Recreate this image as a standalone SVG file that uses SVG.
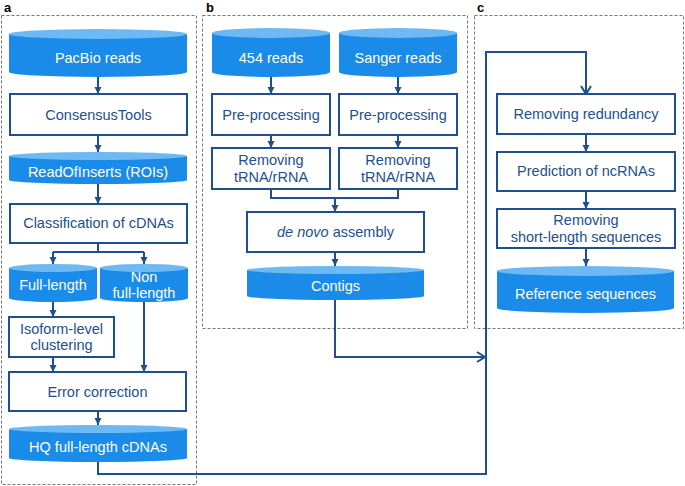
<svg xmlns="http://www.w3.org/2000/svg" width="685" height="486" viewBox="0 0 685 486">
<defs>
<marker id="ah" markerUnits="userSpaceOnUse" markerWidth="8" markerHeight="8" refX="7" refY="4" orient="auto">
<path d="M0,0.5 L7,4 L0,7.5 Z" fill="#1d4f91"/>
</marker>
<marker id="oh" markerUnits="userSpaceOnUse" markerWidth="12" markerHeight="12" refX="9" refY="6" orient="auto">
<path d="M1,1 L9,6 L1,11" fill="none" stroke="#1d4f91" stroke-width="2"/>
</marker>
</defs>
<style>
.panel{fill:none;stroke:#777;stroke-width:1;stroke-dasharray:3 2}
.lbl{font-family:"Liberation Sans",Arial,sans-serif;font-weight:bold;font-size:13px;fill:#000}
.box{fill:#fff;stroke:#1d4f91;stroke-width:2}
.body{fill:#1a8be8}
.top{fill:#6db9f3}
.t{font-family:"Liberation Sans",Arial,sans-serif;font-size:14.5px;fill:#1d4f91;text-anchor:middle}
.w{font-family:"Liberation Sans",Arial,sans-serif;font-size:14.5px;fill:#fff;text-anchor:middle}
.c{fill:none;stroke:#1d4f91;stroke-width:2}
.ca{fill:none;stroke:#1d4f91;stroke-width:2;marker-end:url(#ah)}
.co{fill:none;stroke:#1d4f91;stroke-width:2;marker-end:url(#oh)}
</style>
<rect fill="#fff" width="685" height="486"/>
<g id="panels">
<rect class="panel" x="1.5" y="15.5" width="195" height="469"/>
<rect class="panel" x="202.5" y="15.5" width="265" height="313"/>
<rect class="panel" x="474.5" y="15.5" width="209" height="313"/>
<text class="lbl" x="4" y="12">a</text>
<text class="lbl" x="206" y="12">b</text>
<text class="lbl" x="477" y="12">c</text>
</g>
<g id="connectors">
<path class="ca" d="M98,77 V94"/>
<path class="ca" d="M98,135 V152"/>
<path class="ca" d="M98,184 V204"/>
<path class="c" d="M98,243 V252 M53,252 H144"/>
<path class="ca" d="M53,252 V264"/>
<path class="ca" d="M144,252 V264"/>
<path class="ca" d="M53,302 V317"/>
<path class="ca" d="M144,302 V372"/>
<path class="ca" d="M53,357 V372"/>
<path class="ca" d="M98,411 V425"/>
<path class="co" d="M98,462 V474 H486 V52 H586 V94"/>
<path class="ca" d="M271,77 V94"/>
<path class="ca" d="M398,77 V94"/>
<path class="ca" d="M271,135 V148"/>
<path class="ca" d="M398,135 V148"/>
<path class="c" d="M271,189 V198 H398 V189"/>
<path class="ca" d="M335,198 V212"/>
<path class="ca" d="M335,252 V266"/>
<path class="co" d="M335,300 V357 H485"/>
<path class="ca" d="M586,134 V152"/>
<path class="ca" d="M586,191 V209"/>
<path class="ca" d="M586,248 V266"/>
</g>
<g id="pacbio">
<path class="body" d="M9,34 V72 A89,5 0 0 0 187,72 V34 Z"/>
<ellipse class="top" cx="98" cy="34" rx="89" ry="5"/>
<text class="w" x="98" y="63">PacBio reads</text>
</g>
<g id="consensustools">
<rect class="box" x="10" y="94" width="177" height="41"/>
<text class="t" x="98.5" y="120">ConsensusTools</text>
</g>
<g id="rois">
<path class="body" d="M9,156 V180 A89,4 0 0 0 187,180 V156 Z"/>
<ellipse class="top" cx="98" cy="156" rx="89" ry="4"/>
<text class="w" x="98" y="177">ReadOfInserts (ROIs)</text>
</g>
<g id="classification">
<rect class="box" x="10" y="204" width="177" height="39"/>
<text class="t" x="98.5" y="228">Classification of cDNAs</text>
</g>
<g id="fulllength">
<path class="body" d="M9,268 V298 A44,4 0 0 0 97,298 V268 Z"/>
<ellipse class="top" cx="53" cy="268" rx="44" ry="4"/>
<text class="w" x="53" y="290">Full-length</text>
</g>
<g id="nonfulllength">
<path class="body" d="M100,268 V298 A44,4 0 0 0 188,298 V268 Z"/>
<ellipse class="top" cx="144" cy="268" rx="44" ry="4"/>
<text class="w" x="144" y="282">Non</text>
<text class="w" x="144" y="298">full-length</text>
</g>
<g id="isoform">
<rect class="box" x="9" y="317" width="105" height="40"/>
<text class="t" x="61.5" y="334">Isoform-level</text>
<text class="t" x="61.5" y="350">clustering</text>
</g>
<g id="errorcorrection">
<rect class="box" x="9" y="372" width="177" height="39"/>
<text class="t" x="97.5" y="397">Error correction</text>
</g>
<g id="hq">
<path class="body" d="M9,429 V458 A89,4 0 0 0 187,458 V429 Z"/>
<ellipse class="top" cx="98" cy="429" rx="89" ry="4"/>
<text class="w" x="98" y="452">HQ full-length cDNAs</text>
</g>
<g id="reads454">
<path class="body" d="M212,33 V72 A59,5 0 0 0 330,72 V33 Z"/>
<ellipse class="top" cx="271" cy="33" rx="59" ry="5"/>
<text class="w" x="271" y="63">454 reads</text>
</g>
<g id="sanger">
<path class="body" d="M339,33 V72 A59,5 0 0 0 457,72 V33 Z"/>
<ellipse class="top" cx="398" cy="33" rx="59" ry="5"/>
<text class="w" x="398" y="63">Sanger reads</text>
</g>
<g id="pre454">
<rect class="box" x="212" y="94" width="118" height="41"/>
<text class="t" x="271" y="120">Pre-processing</text>
</g>
<g id="presanger">
<rect class="box" x="339" y="94" width="118" height="41"/>
<text class="t" x="398" y="120">Pre-processing</text>
</g>
<g id="rem454">
<rect class="box" x="212" y="148" width="118" height="41"/>
<text class="t" x="271" y="165">Removing</text>
<text class="t" x="271" y="182">tRNA/rRNA</text>
</g>
<g id="remsanger">
<rect class="box" x="339" y="148" width="118" height="41"/>
<text class="t" x="398" y="165">Removing</text>
<text class="t" x="398" y="182">tRNA/rRNA</text>
</g>
<g id="denovo">
<rect class="box" x="247" y="212" width="177" height="40"/>
<text class="t" x="335.5" y="237"><tspan font-style="italic">de novo</tspan> assembly</text>
</g>
<g id="contigs">
<path class="body" d="M247,270 V296 A88.5,4 0 0 0 424,296 V270 Z"/>
<ellipse class="top" cx="335.5" cy="270" rx="88.5" ry="4"/>
<text class="w" x="335.5" y="291">Contigs</text>
</g>
<g id="redundancy">
<rect class="box" x="497" y="94" width="178" height="40"/>
<text class="t" x="586" y="119">Removing redundancy</text>
</g>
<g id="ncrnas">
<rect class="box" x="497" y="152" width="178" height="39"/>
<text class="t" x="586" y="176">Prediction of ncRNAs</text>
</g>
<g id="shortlength">
<rect class="box" x="497" y="209" width="178" height="39"/>
<text class="t" x="586" y="225">Removing</text>
<text class="t" x="586" y="242">short-length sequences</text>
</g>
<g id="reference">
<path class="body" d="M497,271 V308 A88.5,5 0 0 0 674,308 V271 Z"/>
<ellipse class="top" cx="585.5" cy="271" rx="88.5" ry="5"/>
<text class="w" x="585.5" y="299">Reference sequences</text>
</g>
</svg>
